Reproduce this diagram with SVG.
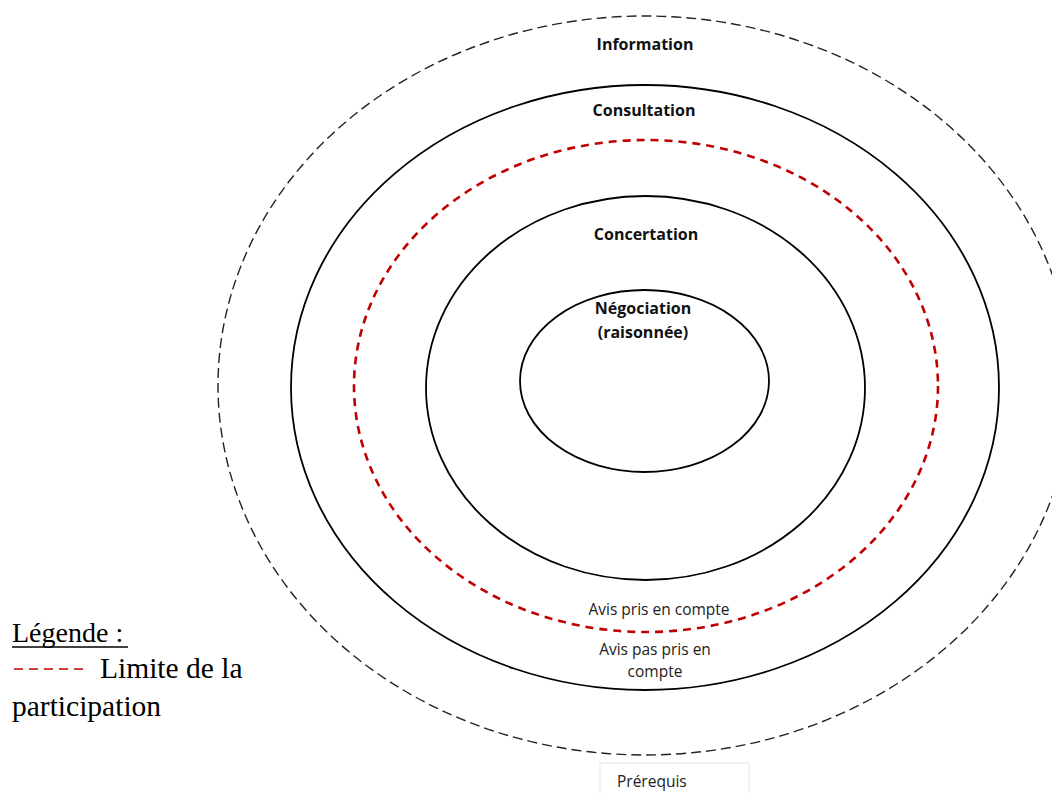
<svg xmlns="http://www.w3.org/2000/svg" width="1052" height="793" viewBox="0 0 1052 793">
<style>
.ring{fill:none;stroke:#000;stroke-width:1.8}
.outer{fill:none;stroke:#222;stroke-width:1.4;stroke-dasharray:10 5}
.limit{fill:none;stroke:#c00000;stroke-width:2.6;stroke-dasharray:8 6}
.lbl{font-family:"Open Sans","Liberation Sans",sans-serif;font-weight:bold;font-size:16px;fill:#111;text-anchor:middle}
.small{font-family:"Open Sans","Liberation Sans",sans-serif;font-size:15.5px;fill:#222;text-anchor:middle}
.leg{font-family:"Liberation Serif",serif;font-size:29.5px;fill:#000}
</style>
<rect width="1052" height="793" fill="#fff"/>
<g id="information">
<ellipse class="outer" cx="645" cy="385.5" rx="427" ry="369.5"/>
<text class="lbl" x="645" y="50">Information</text>
</g>
<g id="consultation">
<ellipse class="ring" cx="645" cy="387.5" rx="354" ry="302.5"/>
<text class="lbl" x="644" y="116">Consultation</text>
<text class="small" x="655" y="655">Avis pas pris en</text>
<text class="small" x="655" y="677">compte</text>
</g>
<g id="limite">
<ellipse class="limit" cx="646" cy="386" rx="292" ry="246"/>
<text class="small" x="659" y="615">Avis pris en compte</text>
</g>
<g id="concertation">
<ellipse class="ring" cx="645.5" cy="388" rx="219.5" ry="192"/>
<text class="lbl" x="646" y="240">Concertation</text>
</g>
<g id="negociation">
<ellipse class="ring" cx="644.5" cy="381" rx="124.5" ry="91"/>
<text class="lbl" x="643" y="314">Négociation</text>
<text class="lbl" x="643" y="338">(raisonnée)</text>
</g>
<g id="prerequis">
<rect x="600" y="763" width="149" height="40" fill="#fff" stroke="#e6e6e6" stroke-width="1"/>
<text class="small" x="617" y="787" style="text-anchor:start">Prérequis</text>
</g>
<g id="legende">
<text class="leg" x="12" y="642" style="font-size:28px">Légende :</text>
<line x1="12" y1="647" x2="128" y2="647" stroke="#000" stroke-width="1.3"/>
<line x1="14" y1="669" x2="84" y2="669" stroke="#c00000" stroke-width="1.6" stroke-dasharray="9 6"/>
<text class="leg" x="100" y="678">Limite de la</text>
<text class="leg" x="12" y="716">participation</text>
</g>
</svg>
